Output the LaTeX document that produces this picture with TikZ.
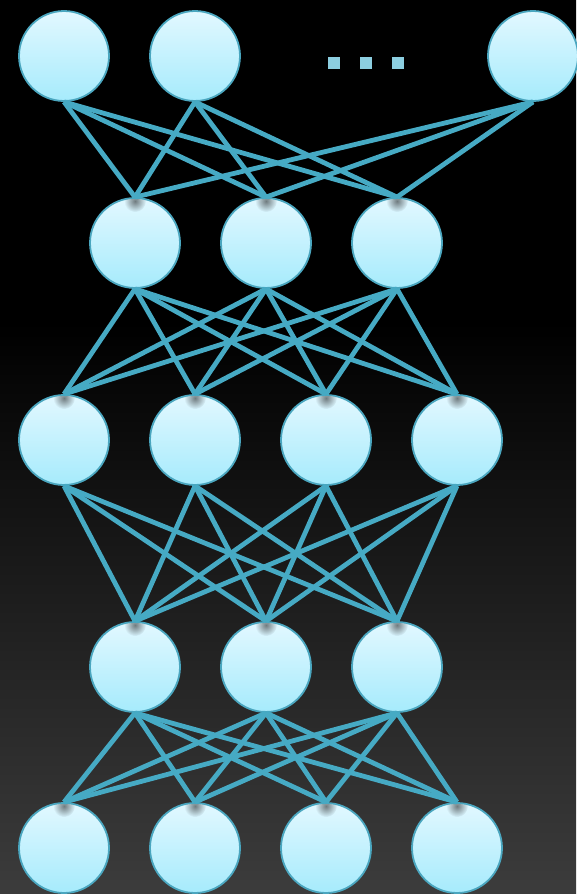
\documentclass[tikz,border=0pt]{standalone}
\usetikzlibrary{fadings}
\definecolor{bggray}{RGB}{60,60,60}
\definecolor{nodetop}{RGB}{226,248,255}
\definecolor{nodebot}{RGB}{166,235,252}
\definecolor{nodeborder}{RGB}{74,166,191}
\definecolor{linkcol}{RGB}{70,170,196}
\definecolor{dotcol}{RGB}{140,206,224}
\pgfdeclareverticalshading{bgshade}{100bp}{color(0bp)=(bggray); color(25bp)=(bggray); color(57bp)=(black); color(100bp)=(black)}
\tikzfading[name=softdot, inner color=transparent!0, outer color=transparent!100]
\tikzset{
  neuron/.style={circle, minimum size=90pt, inner sep=0pt, top color=nodetop, bottom color=nodebot, draw=nodeborder, line width=1.8pt},
  link/.style={draw=linkcol, line width=4.8pt},
  dotbox/.style={rectangle, minimum size=12pt, inner sep=0pt, fill=dotcol},
  smudge/.style={fill=black, opacity=0.5, path fading=softdot}
}
\begin{document}
\begin{tikzpicture}[x=1pt,y=-1pt]
\shade[shading=bgshade] (0,0) rectangle (576,894);
\useasboundingbox (0,0) rectangle (576,894);
% layer nodes
\node[neuron] (a1) at (64,56) {};
\node[neuron] (a2) at (195,56) {};
\node[neuron] (a3) at (533,56) {};
\node[dotbox] (dot1) at (334,63) {};
\node[dotbox] (dot2) at (366,63) {};
\node[dotbox] (dot3) at (398,63) {};
\node[neuron] (b1) at (135,243) {};
\node[neuron] (b2) at (266,243) {};
\node[neuron] (b3) at (397,243) {};
\node[neuron] (c1) at (64,440) {};
\node[neuron] (c2) at (195,440) {};
\node[neuron] (c3) at (326,440) {};
\node[neuron] (c4) at (457,440) {};
\node[neuron] (d1) at (135,667) {};
\node[neuron] (d2) at (266,667) {};
\node[neuron] (d3) at (397,667) {};
\node[neuron] (e1) at (64,848) {};
\node[neuron] (e2) at (195,848) {};
\node[neuron] (e3) at (326,848) {};
\node[neuron] (e4) at (457,848) {};
% smudges at top of lower nodes
\foreach \n in {b1,b2,b3,c1,c2,c3,c4,d1,d2,d3,e1,e2,e3,e4}{
  \begin{scope}
    \clip (\n.center) circle (44pt);
    \fill[smudge] ([yshift=-4pt]\n.north) circle (11pt);
  \end{scope}
}
% connections
\foreach \u in {a1,a2,a3}{\foreach \v in {b1,b2,b3}{\draw[link] (\u.south) -- (\v.north);}}
\foreach \u in {b1,b2,b3}{\foreach \v in {c1,c2,c3,c4}{\draw[link] (\u.south) -- (\v.north);}}
\foreach \u in {c1,c2,c3,c4}{\foreach \v in {d1,d2,d3}{\draw[link] (\u.south) -- (\v.north);}}
\foreach \u in {d1,d2,d3}{\foreach \v in {e1,e2,e3,e4}{\draw[link] (\u.south) -- (\v.north);}}
\end{tikzpicture}
\end{document}
